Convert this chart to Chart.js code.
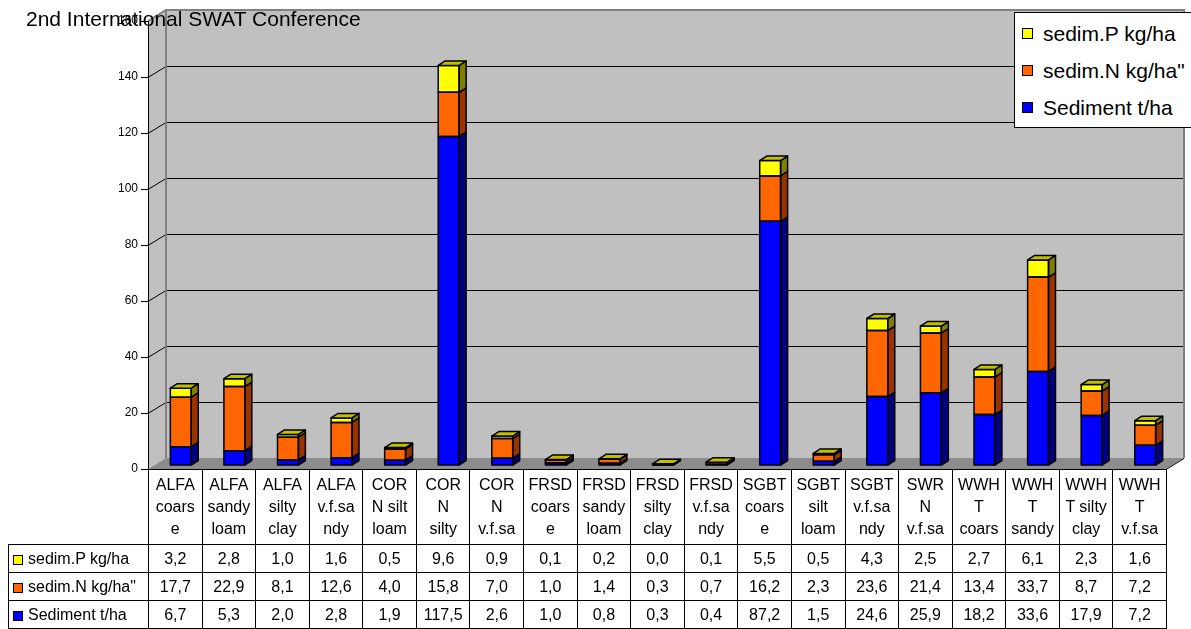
<!DOCTYPE html>
<html>
<head>
<meta charset="utf-8">
<script src="https://cdn.jsdelivr.net/npm/chart.js@4.4.0/dist/chart.umd.min.js"></script>
<style>
  body { margin: 0; background: #fff; font-family: 'Liberation Sans', Arial, sans-serif; }
  #wrap { position: relative; width: 1191px; height: 629px; overflow: hidden; }
  #chartBox { position: absolute; left: 0; top: 0; width: 1191px; height: 480px; }
  #title { position: absolute; left: 26px; top: 8px; font-size: 21px; line-height: 1; color: #000; white-space: nowrap; }
  #legend { position: absolute; left: 1014px; top: 12px; width: 190px; height: 116px; background: #fff;
            border: 1px solid #000; box-sizing: border-box; padding-top: 2px; }
  .lg-item { height: 37px; display: flex; align-items: center; font-size: 21px; padding-left: 7px; white-space: nowrap; }
  .lg-sw { width: 9px; height: 9px; border: 1px solid #000; margin-right: 10px; flex: none; }
  #dataTable { position: absolute; left: 8px; top: 469px; border-collapse: collapse; table-layout: fixed;
               width: 1159px; font-size: 16px; color: #000; }
  #dataTable td { border: 1px solid #000; text-align: center; padding: 0; white-space: nowrap; overflow: hidden; }
  #dataTable tr.head td { height: 74px; line-height: 22px; }
  #dataTable tr.row td { height: 27px; }
  #dataTable td.corner { border: none; }
  #dataTable td.lbl { text-align: left; padding-left: 4px; }
  .sw { display: inline-block; width: 8px; height: 8px; border: 1px solid #000; margin-right: 5px; vertical-align: -1px; }
</style>
</head>
<body>
<div id="wrap">
  <div id="chartBox"><canvas id="swatChart"></canvas></div>
  <div id="title">2nd International SWAT Conference</div>
  <div id="legend"></div>
  <table id="dataTable"></table>
</div>
<script>
// categories, one entry per column, split into the lines shown in the table header
const categories = [
  ['ALFA', 'coars', 'e'], ['ALFA', 'sandy', 'loam'], ['ALFA', 'silty', 'clay'], ['ALFA', 'v.f.sa', 'ndy'],
  ['COR', 'N silt', 'loam'], ['COR', 'N', 'silty'], ['COR', 'N', 'v.f.sa'],
  ['FRSD', 'coars', 'e'], ['FRSD', 'sandy', 'loam'], ['FRSD', 'silty', 'clay'], ['FRSD', 'v.f.sa', 'ndy'],
  ['SGBT', 'coars', 'e'], ['SGBT', 'silt', 'loam'], ['SGBT', 'v.f.sa', 'ndy'],
  ['SWR', 'N', 'v.f.sa'],
  ['WWH', 'T', 'coars'], ['WWH', 'T', 'sandy'], ['WWH', 'T silty', 'clay'], ['WWH', 'T', 'v.f.sa'],
];

const sediment = [6.7, 5.3, 2.0, 2.8, 1.9, 117.5, 2.6, 1.0, 0.8, 0.3, 0.4, 87.2, 1.5, 24.6, 25.9, 18.2, 33.6, 17.9, 7.2];
const sedimN   = [17.7, 22.9, 8.1, 12.6, 4.0, 15.8, 7.0, 1.0, 1.4, 0.3, 0.7, 16.2, 2.3, 23.6, 21.4, 13.4, 33.7, 8.7, 7.2];
const sedimP   = [3.2, 2.8, 1.0, 1.6, 0.5, 9.6, 0.9, 0.1, 0.2, 0.0, 0.1, 5.5, 0.5, 4.3, 2.5, 2.7, 6.1, 2.3, 1.6];

const yTicks = [0, 20, 40, 60, 80, 100, 120, 140, 160];

const SERIES = [
  { label: 'Sediment t/ha',  data: sediment, front: '#0000ff', side: '#000080', top: '#0000c0' },
  { label: 'sedim.N kg/ha"', data: sedimN,   front: '#ff6600', side: '#993300', top: '#cc5200' },
  { label: 'sedim.P kg/ha',  data: sedimP,   front: '#ffff00', side: '#808000', top: '#c0c000' },
];

const WALL = { dx: 18, dy: -11 };     // depth of the floor / back wall
const BAR_OFF = { dx: 6, dy: -3.5 };  // bars sit a little behind the front edge
const BAR_D = { dx: 7, dy: -4.5 };    // depth of each bar

const fmt = v => v.toFixed(1).replace('.', ',');

Chart.defaults.font.family = "'Liberation Sans', Arial, sans-serif";

const depth3d = {
  id: 'depth3d',
  beforeDraw(chart) {
    const { ctx, chartArea: a } = chart;
    const y = chart.scales.y;
    const { dx, dy } = WALL;
    ctx.save();
    // left wall
    ctx.fillStyle = '#c0c0c0';
    ctx.beginPath();
    ctx.moveTo(a.left, a.top); ctx.lineTo(a.left + dx, a.top + dy);
    ctx.lineTo(a.left + dx, a.bottom + dy); ctx.lineTo(a.left, a.bottom);
    ctx.closePath(); ctx.fill();
    // back wall
    ctx.fillRect(a.left + dx, a.top + dy, a.right - a.left, a.bottom - a.top);
    // floor
    ctx.fillStyle = '#8c8c8c';
    ctx.beginPath();
    ctx.moveTo(a.left, a.bottom); ctx.lineTo(a.right, a.bottom);
    ctx.lineTo(a.right + dx, a.bottom + dy); ctx.lineTo(a.left + dx, a.bottom + dy);
    ctx.closePath(); ctx.fill();
    // gridlines
    ctx.strokeStyle = '#000'; ctx.lineWidth = 1;
    yTicks.slice(1, -1).forEach(v => {
      const py = Math.round(y.getPixelForValue(v)) + 0.5;
      ctx.beginPath();
      ctx.moveTo(a.left, py); ctx.lineTo(a.left + dx, py + dy); ctx.lineTo(a.right + dx, py + dy);
      ctx.stroke();
    });
    // wall edges
    ctx.strokeStyle = '#808080'; ctx.lineWidth = 2;
    ctx.beginPath();
    ctx.moveTo(a.left + dx, a.bottom + dy); ctx.lineTo(a.left + dx, a.top + dy);
    ctx.moveTo(a.left, a.top); ctx.lineTo(a.left + dx, a.top + dy);
    ctx.lineTo(a.right + dx, a.top + dy); ctx.lineTo(a.right + dx, a.bottom + dy);
    ctx.stroke();
    ctx.strokeStyle = '#000'; ctx.lineWidth = 1;
    ctx.beginPath();
    ctx.moveTo(a.left, a.bottom + 0.5); ctx.lineTo(a.right, a.bottom + 0.5);
    ctx.lineTo(a.right + dx, a.bottom + dy + 0.5);
    ctx.stroke();
    ctx.restore();
  },
  beforeDatasetsDraw(chart) {
    chart.ctx.save();
    chart.ctx.translate(BAR_OFF.dx, BAR_OFF.dy);
  },
  afterDatasetsDraw(chart) {
    const ctx = chart.ctx;
    const { dx, dy } = BAR_D;
    ctx.lineWidth = 1.5;
    ctx.strokeStyle = '#000';
    ctx.lineJoin = 'round';
    const last = SERIES.length - 1;
    SERIES.forEach((s, di) => {
      chart.getDatasetMeta(di).data.forEach(bar => {
        const p = bar.getProps(['x', 'y', 'base', 'width'], true);
        const l = p.x - p.width / 2, r = p.x + p.width / 2;
        const t = Math.min(p.y, p.base), b = Math.max(p.y, p.base);
        // side face
        ctx.fillStyle = s.side;
        ctx.beginPath();
        ctx.moveTo(r, t); ctx.lineTo(r + dx, t + dy); ctx.lineTo(r + dx, b + dy); ctx.lineTo(r, b);
        ctx.closePath(); ctx.fill(); ctx.stroke();
        // front outline
        ctx.strokeRect(l, t, r - l, b - t);
        // top face on the top series
        if (di === last) {
          ctx.fillStyle = s.top;
          ctx.beginPath();
          ctx.moveTo(l, t); ctx.lineTo(l + dx, t + dy); ctx.lineTo(r + dx, t + dy); ctx.lineTo(r, t);
          ctx.closePath(); ctx.fill(); ctx.stroke();
        }
      });
    });
    ctx.restore();
  },
};

new Chart(document.getElementById('swatChart'), {
  type: 'bar',
  data: {
    labels: categories,
    datasets: SERIES.map(s => ({
      label: s.label,
      data: s.data,
      backgroundColor: s.front,
      borderWidth: 0,
      barPercentage: 0.39,
      categoryPercentage: 1,
    })),
  },
  options: {
    responsive: true,
    maintainAspectRatio: false,
    animation: false,
    events: [],
    layout: { padding: { left: 0, right: 25, top: 21, bottom: 11 } },
    plugins: { legend: { display: false }, tooltip: { enabled: false } },
    scales: {
      x: { stacked: true, display: false },
      y: {
        stacked: true,
        min: 0,
        max: 160,
        afterBuildTicks: axis => { axis.ticks = yTicks.map(v => ({ value: v })); },
        afterFit: axis => { axis.width = 148; },
        ticks: { color: '#000', font: { size: 12 }, padding: 3 },
        grid: { drawOnChartArea: false, drawTicks: true, tickLength: 7, color: '#000' },
        border: { display: true, color: '#000', width: 1 },
      },
    },
  },
  plugins: [depth3d],
});

// legend (top series first)
const legend = document.getElementById('legend');
SERIES.slice().reverse().forEach(s => {
  const item = document.createElement('div');
  item.className = 'lg-item';
  item.innerHTML = `<span class="lg-sw" style="background:${s.front}"></span>${s.label}`;
  legend.appendChild(item);
});

// data table
const table = document.getElementById('dataTable');
let html = '<colgroup><col style="width:140px">' + categories.map(() => '<col>').join('') + '</colgroup>';
html += '<tr class="head"><td class="corner"></td>' + categories.map(c => `<td>${c.join('<br>')}</td>`).join('') + '</tr>';
SERIES.slice().reverse().forEach(s => {
  html += `<tr class="row"><td class="lbl"><span class="sw" style="background:${s.front}"></span>${s.label}</td>`;
  html += s.data.map(v => `<td>${fmt(v)}</td>`).join('') + '</tr>';
});
table.innerHTML = html;
</script>
</body>
</html>
